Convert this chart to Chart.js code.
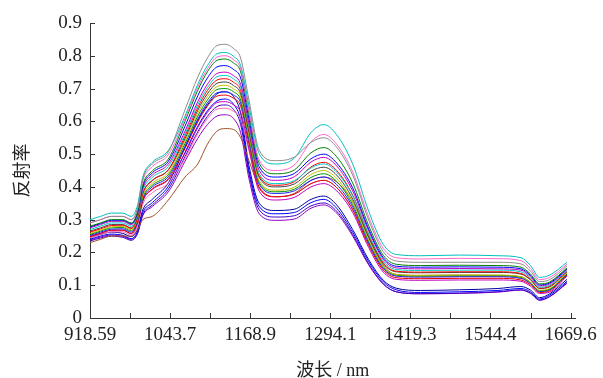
<!DOCTYPE html>
<html>
<head>
<meta charset="utf-8">
<script src="https://cdn.jsdelivr.net/npm/chart.js@4.4.0/dist/chart.umd.min.js"></script>
<style>
  body { margin: 0; background: #fff; }
  #wrap { width: 603px; height: 378px; }
</style>
</head>
<body>
<div id="wrap"><canvas id="chart"></canvas></div>
<script>
// wavelength sample points (nm)
const wavelengths = [918.6, 935, 952, 970, 983, 993, 1001, 1016, 1041, 1067, 1087, 1102, 1117, 1130, 1143, 1154, 1167, 1183, 1208, 1238, 1264, 1284, 1304, 1329, 1354, 1377, 1397, 1435, 1496, 1556, 1592, 1607, 1621, 1637, 1664];

// reflectance spectra
const s01 = [.290, .300, .310, .310, .300, .335, .424, .470, .507, .635, .735, .793, .831, .835, .822, .793, .665, .512, .480, .491, .536, .550, .521, .436, .299, .202, .174, .170, .170, .170, .165, .143, .111, .117, .159];
const s02 = [.300, .310, .320, .320, .310, .345, .430, .475, .511, .616, .713, .770, .806, .810, .798, .770, .647, .501, .470, .488, .566, .590, .559, .470, .326, .224, .194, .190, .192, .190, .184, .160, .124, .131, .170];
const s03 = [.290, .300, .310, .310, .300, .335, .418, .462, .498, .608, .704, .760, .796, .800, .788, .760, .632, .482, .450, .467, .538, .560, .530, .446, .309, .212, .184, .180, .182, .181, .175, .151, .117, .124, .164];
const s04 = [.280, .290, .300, .300, .290, .325, .406, .449, .485, .600, .695, .751, .786, .790, .778, .751, .622, .472, .440, .452, .504, .520, .492, .412, .282, .191, .164, .160, .161, .160, .155, .134, .104, .110, .153];
const s05 = [.278, .288, .298, .298, .288, .322, .401, .443, .478, .585, .678, .732, .766, .770, .758, .732, .607, .461, .430, .441, .486, .500, .473, .397, .272, .184, .158, .155, .156, .155, .150, .130, .101, .107, .150];
const s06 = [.275, .285, .295, .295, .285, .320, .395, .436, .470, .570, .660, .713, .746, .750, .739, .713, .592, .450, .420, .431, .476, .490, .464, .388, .266, .179, .153, .150, .151, .150, .146, .126, .098, .104, .148];
const s07 = [.270, .280, .290, .290, .280, .315, .388, .429, .462, .562, .651, .703, .736, .740, .729, .703, .582, .440, .410, .419, .458, .470, .445, .373, .256, .173, .148, .145, .146, .146, .141, .122, .094, .100, .145];
const s08 = [.262, .272, .282, .283, .273, .307, .379, .419, .452, .555, .642, .694, .726, .730, .719, .694, .574, .434, .405, .416, .461, .475, .450, .375, .254, .168, .143, .140, .141, .141, .136, .118, .091, .097, .142];
const s09 = [.265, .275, .285, .285, .275, .310, .380, .420, .452, .547, .634, .684, .716, .720, .709, .684, .566, .429, .400, .409, .448, .460, .436, .363, .247, .165, .141, .138, .139, .139, .134, .116, .090, .095, .141];
const s10 = [.258, .268, .278, .279, .269, .303, .372, .411, .443, .540, .625, .675, .706, .710, .699, .675, .556, .419, .390, .399, .438, .450, .426, .354, .239, .157, .133, .130, .131, .131, .126, .109, .085, .090, .137];
const s11 = [.255, .265, .275, .276, .266, .300, .367, .405, .437, .532, .616, .665, .697, .700, .690, .665, .549, .413, .385, .393, .429, .440, .417, .346, .234, .155, .131, .128, .129, .129, .124, .108, .083, .088, .135];
const s12 = [.252, .262, .271, .272, .262, .296, .362, .400, .431, .524, .607, .656, .687, .690, .680, .656, .541, .408, .380, .388, .420, .430, .407, .339, .229, .151, .128, .125, .126, .126, .121, .105, .081, .086, .134];
const s13 = [.248, .258, .268, .268, .258, .292, .357, .394, .425, .517, .598, .646, .677, .680, .670, .646, .531, .398, .370, .378, .410, .420, .398, .330, .222, .146, .123, .120, .121, .121, .116, .101, .078, .083, .131];
const s14 = [.250, .259, .268, .268, .257, .290, .356, .392, .422, .502, .581, .627, .657, .660, .650, .627, .516, .387, .360, .368, .400, .410, .388, .322, .215, .140, .118, .115, .116, .116, .112, .097, .075, .079, .128];
const s15 = [.245, .254, .263, .263, .252, .283, .347, .382, .411, .486, .563, .608, .637, .640, .630, .608, .510, .394, .370, .378, .410, .420, .398, .332, .225, .150, .128, .125, .126, .126, .121, .105, .081, .086, .134];
const s16 = [.230, .240, .250, .250, .250, .270, .300, .310, .360, .430, .470, .530, .570, .578, .575, .550, .480, .400, .370, .380, .420, .430, .415, .355, .245, .160, .133, .130, .131, .130, .126, .108, .083, .088, .135];
const s17 = [.240, .250, .256, .252, .242, .265, .322, .352, .402, .505, .585, .632, .662, .668, .652, .605, .450, .340, .318, .322, .352, .362, .335, .262, .172, .110, .086, .078, .080, .084, .090, .080, .058, .070, .112];
const s18 = [.235, .244, .250, .246, .237, .258, .315, .345, .393, .492, .568, .615, .645, .650, .636, .590, .440, .330, .308, .312, .342, .351, .326, .255, .165, .104, .080, .074, .076, .080, .086, .076, .055, .066, .108];
const s19 = [.245, .255, .262, .258, .248, .272, .330, .362, .412, .520, .603, .650, .684, .690, .675, .625, .465, .350, .328, .332, .362, .372, .345, .270, .178, .115, .091, .084, .086, .090, .096, .085, .062, .074, .118];
const s20 = [.238, .247, .253, .249, .240, .260, .312, .340, .385, .478, .548, .590, .616, .620, .608, .565, .425, .318, .298, .302, .335, .345, .320, .250, .162, .103, .080, .074, .075, .079, .085, .075, .054, .065, .106];

const spectra = [s01, s02, s03, s04, s05, s06, s07, s08, s09, s10, s11, s12, s13, s14, s15, s16, s17, s18, s19, s20];

// axis ticks
const xTickValues = [918.59, 981.18, 1043.7, 1106.3, 1168.9, 1231.5, 1294.1, 1356.7, 1419.3, 1481.85, 1544.4, 1607, 1669.6];
const xTickLabels = ['918.59', '', '1043.7', '', '1168.9', '', '1294.1', '', '1419.3', '', '1544.4', '', '1669.6'];
const yTickValues = [0, 0.1, 0.2, 0.3, 0.4, 0.5, 0.6, 0.7, 0.8, 0.9];
const yTickLabels = ['0', '0.1', '0.2', '0.3', '0.4', '0.5', '0.6', '0.7', '0.8', '0.9'];

const colors = ['#8c8c8c', '#00bfbf', '#ff66cc', '#008000', '#0000ff', '#bf00bf', '#00c8c8', '#ff0000',
  '#404040', '#bfbf00', '#009000', '#2020ff', '#e00000', '#bf00bf', '#ff69b4', '#a0522d',
  '#0000ff', '#4000c0', '#0000a0', '#9000c0'];

const datasets = spectra.map((s, i) => ({
  data: s.map((v, j) => ({ x: wavelengths[j], y: v })),
  borderColor: colors[i],
  borderWidth: 1,
  pointRadius: 0,
  cubicInterpolationMode: 'monotone',
  fill: false,
}));

// inward tick marks like the original plot
const innerTicks = {
  id: 'innerTicks',
  afterDraw(chart) {
    const ctx = chart.ctx;
    const { x, y } = chart.scales;
    const area = chart.chartArea;
    ctx.save();
    ctx.strokeStyle = '#333';
    ctx.lineWidth = 1;
    ctx.beginPath();
    xTickValues.forEach((v) => {
      const px = Math.round(x.getPixelForValue(v)) + 0.5;
      ctx.moveTo(px, area.bottom);
      ctx.lineTo(px, area.bottom - 5);
    });
    yTickValues.forEach((v) => {
      const py = Math.round(y.getPixelForValue(v)) + 0.5;
      ctx.moveTo(area.left, py);
      ctx.lineTo(area.left + 5, py);
    });
    ctx.stroke();
    ctx.restore();
  },
};

const tickFont = { family: '"Liberation Serif", "Times New Roman", serif', size: 19 };

new Chart(document.getElementById('chart'), {
  type: 'line',
  data: { datasets: datasets },
  options: {
    responsive: true,
    maintainAspectRatio: false,
    animation: false,
    layout: { padding: { left: 0, right: 27, top: 23, bottom: 0 } },
    plugins: { legend: { display: false }, tooltip: { enabled: false } },
    scales: {
      x: {
        type: 'linear',
        min: 918.59,
        max: 1677,
        afterBuildTicks: (scale) => {
          scale.ticks = xTickValues.map((v) => ({ value: v }));
        },
        afterFit: (scale) => { scale.height = 60; },
        grid: { display: true, drawOnChartArea: false, drawTicks: false },
        border: { display: true, color: '#333', width: 1 },
        ticks: {
          autoSkip: false,
          maxRotation: 0,
          padding: 6,
          color: '#222',
          font: tickFont,
          callback: (v, i) => xTickLabels[i],
        },
        title: {
          display: true,
          text: '波长 / nm',
          color: '#222',
          font: { family: '"Liberation Serif", "Noto Sans CJK SC", serif', size: 18, lineHeight: 0.8 },
          padding: { top: 0, bottom: 0 },
        },
      },
      y: {
        min: 0,
        max: 0.9,
        afterBuildTicks: (scale) => {
          scale.ticks = yTickValues.map((v) => ({ value: v }));
        },
        afterFit: (scale) => { scale.width = 90; },
        grid: { display: true, drawOnChartArea: false, drawTicks: false },
        border: { display: true, color: '#333', width: 1 },
        ticks: {
          padding: 8,
          color: '#222',
          font: tickFont,
          callback: (v, i) => yTickLabels[i],
        },
        title: {
          display: true,
          text: '反射率',
          color: '#222',
          font: { family: '"Noto Sans CJK SC", sans-serif', size: 18 },
          padding: { top: 10, bottom: 0 },
        },
      },
    },
  },
  plugins: [innerTicks],
});
</script>
</body>
</html>
